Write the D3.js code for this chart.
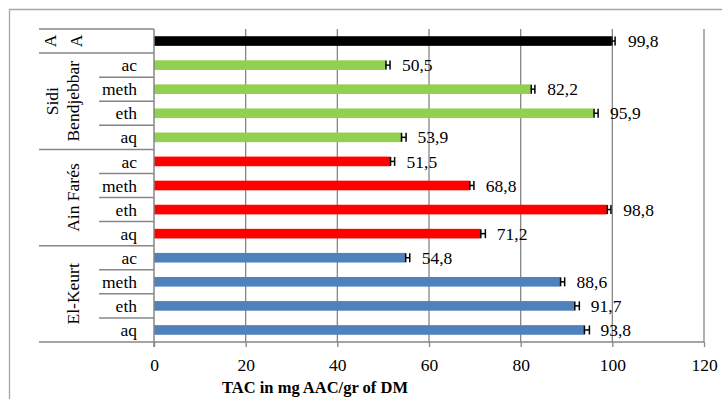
<!DOCTYPE html>
<html>
<head>
<meta charset="utf-8">
<script src="https://cdn.jsdelivr.net/npm/d3@7"></script>
<style>
  body { margin: 0; background: #fff; }
  svg { display: block; }
  svg text { font-family: "Liberation Serif", "DejaVu Serif", serif; }
</style>
</head>
<body>
<svg id="chart" width="722" height="399"></svg>
<script>
// rows from top to bottom
const groups = ["A", "Sidi Bendjebbar", "Ain Farés", "El-Keurt"];
const groupRows = [1, 4, 4, 4];
const rowLabels = ["A", "ac", "meth", "eth", "aq", "ac", "meth", "eth", "aq", "ac", "meth", "eth", "aq"];
const values = [99.8, 50.5, 82.2, 95.9, 53.9, 51.5, 68.8, 98.8, 71.2, 54.8, 88.6, 91.7, 93.8];
const errors = [0.8, 1.0, 0.9, 1.0, 1.1, 1.0, 1.0, 0.9, 1.1, 1.0, 1.0, 1.1, 1.2];
const groupColors = ["#000000", "#92D050", "#FF0000", "#4F81BD"];
const xTicks = [0, 20, 40, 60, 80, 100, 120];

const svg = d3.select("#chart");
const plotLeft = 154, plotRight = 704, plotTop = 29, plotBottom = 342;
const gray = "#868686";
const serif = "'Liberation Serif', serif";

const rowIds = rowLabels.map((d, i) => i);
const rowGroup = [];
groupRows.forEach((n, g) => { for (let k = 0; k < n; k++) rowGroup.push(g); });

const x = d3.scaleLinear().domain([0, 120]).range([plotLeft, plotRight]);
const y = d3.scaleBand().domain(rowIds).range([plotTop, plotBottom]).paddingInner(0.6).paddingOuter(0.3);
const yRow = d3.scaleBand().domain(rowIds).range([plotTop, plotBottom]);

// outer border (cropped)
svg.append("path")
    .attr("d", `M9.5,399V9.5H722`)
    .attr("fill", "none")
    .attr("stroke", "#a6a6a6")
    .attr("stroke-width", 1.3);

// gridlines
svg.append("g")
    .selectAll("line")
    .data(xTicks.slice(1))
    .join("line")
    .attr("x1", d => x(d)).attr("x2", d => x(d))
    .attr("y1", plotTop).attr("y2", plotBottom)
    .attr("stroke", gray)
    .attr("stroke-width", 1.3);

// x axis
const xAxisGroup = svg.append("g")
    .attr("transform", `translate(0,${plotBottom})`)
    .call(d3.axisBottom(x).tickValues(xTicks).tickSize(5).tickSizeOuter(0).tickPadding(11.5));

xAxisGroup.attr("font-family", null);
xAxisGroup.select(".domain").remove();
xAxisGroup.selectAll("line").attr("stroke", gray).attr("stroke-width", 1.3);
xAxisGroup.selectAll("text")
    .style("font-size", "17.5px")
    .style("font-family", serif)
    .attr("fill", "#000");

svg.append("line")
    .attr("x1", 39).attr("x2", plotRight)
    .attr("y1", plotBottom).attr("y2", plotBottom)
    .attr("stroke", gray).attr("stroke-width", 1.5);

svg.append("text")
    .attr("x", 315)
    .attr("y", 393)
    .attr("text-anchor", "middle")
    .style("font-family", serif)
    .style("font-size", "16.5px")
    .style("font-weight", "bold")
    .text("TAC in mg AAC/gr of DM");

// bars
svg.append("g")
    .selectAll("rect")
    .data(rowIds)
    .join("rect")
    .attr("x", x(0))
    .attr("y", d => y(d))
    .attr("height", y.bandwidth())
    .attr("width", d => x(values[d]) - x(0))
    .attr("fill", d => groupColors[rowGroup[d]]);

// error bars
const err = svg.append("g").attr("stroke", "#000").attr("stroke-width", 1.5);
rowIds.forEach(d => {
    const cy = y(d) + y.bandwidth() / 2;
    const x0 = x(values[d]), x1 = x(values[d] + errors[d]);
    err.append("line").attr("x1", x0).attr("x2", x1).attr("y1", cy).attr("y2", cy);
    err.append("line").attr("x1", x0 + 0.5).attr("x2", x0 + 0.5).attr("y1", cy - 4.5).attr("y2", cy + 4.5);
    err.append("line").attr("x1", x1).attr("x2", x1).attr("y1", cy - 4.5).attr("y2", cy + 4.5);
});

// value labels
svg.append("g")
    .selectAll("text")
    .data(rowIds)
    .join("text")
    .attr("x", d => x(values[d]) + 16.5)
    .attr("y", d => y(d) + y.bandwidth() / 2)
    .attr("dy", "0.35em")
    .style("font-family", serif)
    .style("font-size", "17.5px")
    .text(d => String(values[d]).replace(".", ","));

// category axis
svg.append("line")
    .attr("x1", plotLeft).attr("x2", plotLeft)
    .attr("y1", plotTop).attr("y2", plotBottom + 5)
    .attr("stroke", gray).attr("stroke-width", 1.5);

// group separators
let start = 0;
const groupBounds = groupRows.map(n => { const b = [start, start + n - 1]; start += n; return b; });

svg.append("line")
    .attr("x1", 39).attr("x2", plotLeft)
    .attr("y1", plotTop).attr("y2", plotTop)
    .attr("stroke", gray).attr("stroke-width", 1.5);

svg.append("g")
    .selectAll("line")
    .data(groupBounds.slice(0, -1))
    .join("line")
    .attr("x1", 39).attr("x2", plotLeft)
    .attr("y1", d => yRow(d[1]) + yRow.bandwidth())
    .attr("y2", d => yRow(d[1]) + yRow.bandwidth())
    .attr("stroke", gray).attr("stroke-width", 1.5);

// inner separators
svg.append("g")
    .selectAll("line")
    .data(rowIds.filter(d => d < rowIds.length - 1 && rowGroup[d] === rowGroup[d + 1]))
    .join("line")
    .attr("x1", 99).attr("x2", plotLeft)
    .attr("y1", d => yRow(d) + yRow.bandwidth())
    .attr("y2", d => yRow(d) + yRow.bandwidth())
    .attr("stroke", gray).attr("stroke-width", 1.5);

// row labels
rowIds.forEach(d => {
    const cy = yRow(d) + yRow.bandwidth() / 2;
    if (groupRows[rowGroup[d]] === 1) {
        svg.append("text")
            .attr("transform", `translate(76,${cy}) rotate(-90)`)
            .attr("text-anchor", "middle")
            .attr("dy", "0.35em")
            .style("font-family", serif)
            .style("font-size", "17.5px")
            .text(rowLabels[d]);
    } else {
        svg.append("text")
            .attr("x", 137)
            .attr("y", cy)
            .attr("dy", "0.35em")
            .attr("text-anchor", "end")
            .style("font-family", serif)
            .style("font-size", "17.5px")
            .text(rowLabels[d]);
    }
});

// group labels
groupBounds.forEach((b, g) => {
    const cy = (yRow(b[0]) + yRow(b[1]) + yRow.bandwidth()) / 2;
    const lines = groups[g] === "Sidi Bendjebbar" ? groups[g].split(" ") : [groups[g]];
    const cx = lines.length === 2 ? [52, 73] : (groupRows[g] === 1 ? [50] : [73]);
    lines.forEach((t, i) => {
        svg.append("text")
            .attr("transform", `translate(${cx[i]},${cy}) rotate(-90)`)
            .attr("text-anchor", "middle")
            .attr("dy", "0.35em")
            .style("font-family", serif)
            .style("font-size", "17.5px")
            .text(t);
    });
});
</script>
</body>
</html>
